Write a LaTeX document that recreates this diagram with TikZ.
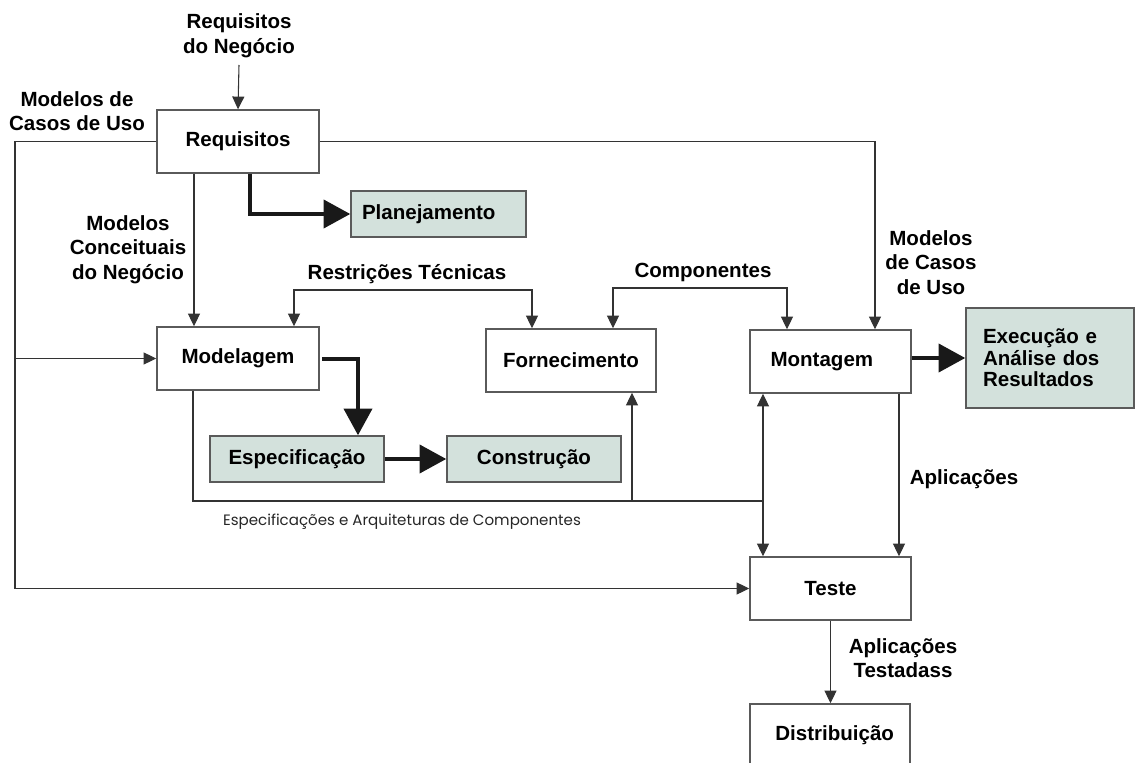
\documentclass[tikz,border=0pt]{standalone}
\usepackage{fontspec}
\setmainfont{Liberation Sans}
\newfontfamily\thinfont{Poppins}
\usetikzlibrary{arrows.meta,calc}
\definecolor{boxfill}{HTML}{D3E1DC}
\definecolor{edge}{HTML}{5A5A5A}
\definecolor{wirecol}{HTML}{333333}

\begin{document}
\begin{tikzpicture}[x=0.75pt,y=-0.75pt,
  sz/.style 2 args={minimum width=#1*0.75pt, minimum height=#2*0.75pt},
  lbl/.style={font=\fontsize{15.4}{18.4}\selectfont\bfseries, align=center, inner sep=0pt},
  box/.style={draw=edge, line width=1.1pt, fill=white,
              font=\fontsize{15.4}{18}\selectfont\bfseries, inner sep=0pt, align=center},
  gbox/.style={box, fill=boxfill},
  wire/.style={draw=wirecol, line width=0.8pt},
  arr/.style={wire, -{Triangle[length=9.5pt,width=9pt]}},
  darr/.style={wire, {Triangle[length=9.5pt,width=9pt]}-{Triangle[length=9.5pt,width=9pt]}},
  fat/.style={draw=black!90, line width=3pt, -{Triangle[length=20pt,width=21pt]}}
]
\useasboundingbox (0,0) rectangle (1136,763);
\clip (0,0) rectangle (1136,763);

% process boxes
\node[box, sz={162}{63}] (req)   at (238,141.5) {\raisebox{-2pt}{Requisitos}};
\node[gbox, sz={175}{46}, inner xsep=8.25pt, text width=114.75pt, align=left]
      (plan)  at (438.5,214) {Planejamento};
\node[box, sz={162}{63}] (mod)   at (238,358.5) {Modelagem};
\node[box, sz={170}{63}] (forn)  at (571,360.5) {Fornecimento};
\node[box, sz={161}{63}] (mont)  at (830.5,361.5) {Montagem\hspace{13pt}};
\node[gbox, sz={168}{100}, inner xsep=12.75pt, text width=100.5pt, align=left,
      font=\fontsize{15.4}{16.2}\selectfont\bfseries]
      (exec)  at (1050,358) {Execução e\\Análise dos\\Resultados};
\node[gbox, sz={174}{46}] (esp)  at (297,459) {Especificação};
\node[gbox, sz={174}{46}] (cons) at (534,459) {Construção};
\node[box, sz={161}{63}] (teste) at (830.5,588.5) {Teste};
\node[box, sz={160}{63}] (dist)  at (830,735.5) {\hspace{7pt}Distribuição};

% free labels
\node[lbl] (rn)   at (239,36)    {Requisitos\\do Negócio};
\node[lbl] (mcu)  at (77,111)    {Modelos de\\Casos de Uso};
\node[lbl] (mcn)  at (128,249.5) {Modelos\\Conceituais\\do Negócio};
\node[lbl] (rtc)  at (407,274)   {Restrições Técnicas};
\node[lbl] (cmp)  at (703,272)   {Componentes};
\node[lbl] (mcu2) at (931,262.5) {Modelos\\de Casos\\de Uso};
\node[lbl] (apl)  at (964,479)   {Aplicações};
\node[lbl] (apt)  at (903,658)   {Aplicações\\Testadass};
\node[font=\thinfont\fontsize{11.3}{13}\selectfont, text=black!85, inner sep=0pt]
      (eac) at (402,522) {Especificações e Arquiteturas de Componentes};

% routing points
\coordinate (rtop) at (239,65);
\coordinate (lt)  at (15,141.5);
\coordinate (lb)  at (15,588.5);
\coordinate (lm)  at (15,358.5);
\coordinate (rr)  at (875,141.5);
\coordinate (mx)  at (194,0);
\coordinate (pj)  at (250,214);
\coordinate (rt1) at (294,290);
\coordinate (rt2) at (532,290);
\coordinate (cp1) at (613,288);
\coordinate (cp2) at (787,288);
\coordinate (sp)  at (358,358.5);
\coordinate (bl)  at (193,501);
\coordinate (bf)  at (632,501);
\coordinate (br)  at (763,501);
\coordinate (ap)  at (899,0);

% thin connectors
\draw[arr] (rtop) -- (req.north);
\draw[arr] (req.west) -- (lt) -- (lb) -- (teste.west);
\draw[arr] (lm) -- (mod.west);
\draw[arr] (req.east) -- (rr) -- (rr |- mont.north);
\draw[arr] (req.south -| mx) -- (mod.north -| mx);
\draw[darr] (mod.north -| rt1) -- (rt1) -- (rt2) -- (forn.north -| rt2);
\draw[darr] (forn.north -| cp1) -- (cp1) -- (cp2) -- (mont.north -| cp2);
\draw[wire] (mod.south -| bl) -- (bl) -- (br);
\draw[arr] (bf) -- (forn.south -| bf);
\draw[darr] (mont.south -| br) -- (teste.north -| br);
\draw[arr] (mont.south -| ap) -- (teste.north -| ap);
\draw[arr] (teste.south) -- (teste.south |- dist.north);

% heavy connectors
\draw[fat] (req.south -| pj) -- (pj) -- (plan.west);
\draw[fat, shorten <=2pt] (mod.east) -- (sp) -- (esp.north -| sp);
\draw[fat] (esp.east) -- (cons.west);
\draw[fat] (mont.east |- exec.west) -- (exec.west);
\end{tikzpicture}
\end{document}
